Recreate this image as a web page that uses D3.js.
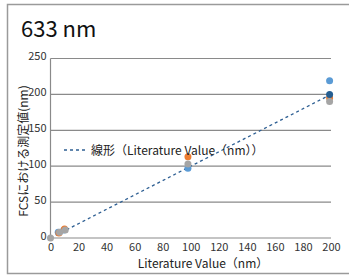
<!DOCTYPE html>
<html>
<head>
<meta charset="utf-8">
<script src="https://cdn.jsdelivr.net/npm/d3@7"></script>
<style>
  body { margin: 0; background: #fff; }
  text { font-family: "Noto Sans CJK JP", "Noto Sans", sans-serif; fill: #222; }
</style>
</head>
<body>
<svg id="chart" width="349" height="277"></svg>
<script>
var xTicks = [0, 20, 40, 60, 80, 100, 120, 140, 160, 180, 200];
var yTicks = [0, 50, 100, 150, 200, 250];

var lightBlue = [{x: 5.5, y: 8}, {x: 9.5, y: 11}, {x: 98, y: 97}, {x: 199, y: 219}];
var orange    = [{x: 6, y: 7}, {x: 10, y: 12.5}, {x: 98, y: 113}, {x: 199, y: 195}];
var gray      = [{x: 0, y: 0}, {x: 6.5, y: 8}, {x: 10.5, y: 11}, {x: 98, y: 103}, {x: 199, y: 190}];
var darkBlue  = [{x: 199, y: 200}];
var trend     = [{x: 0, y: 0}, {x: 200, y: 200}];

var svg = d3.select('#chart');

svg.append('rect')
   .attr('x', 7.5).attr('y', 4.5).attr('width', 360).attr('height', 269)
   .style('fill', 'none').style('stroke', '#9a9a9a').style('stroke-width', 1.5);

svg.append('text')
   .attr('x', 21).attr('y', 37)
   .style('font-size', '22px').style('fill', '#111')
   .text('633 nm');

var x = d3.scaleLinear().domain([0, 200]).range([50.5, 331]);
var y = d3.scaleLinear().domain([0, 250]).range([238, 58.5]);

// grid
svg.selectAll('.grid')
   .data(yTicks)
   .enter()
   .append('line')
   .classed('grid', true)
   .attr('x1', x(0)).attr('x2', x(200))
   .attr('y1', function(d){return y(d);}).attr('y2', function(d){return y(d);})
   .style('stroke', '#8a8a8a').style('stroke-width', 1.2);

svg.append('line')
   .attr('x1', x(0)).attr('x2', x(0)).attr('y1', y(0)).attr('y2', y(250))
   .style('stroke', '#8a8a8a').style('stroke-width', 1.2);

var yAxis = d3.axisLeft(y).tickValues(yTicks).tickSize(0).tickPadding(4);
var gy = svg.append('g').attr('transform', 'translate(' + x(0) + ',0)').call(yAxis);
gy.select('.domain').remove();
gy.selectAll('text').style('font-size', '11px').style('fill', '#333').style('font-family', '"Noto Sans CJK JP", sans-serif').attr('dy', '0.1em');

var xAxis = d3.axisBottom(x).tickValues(xTicks).tickSize(0).tickPadding(5);
var gx = svg.append('g').attr('transform', 'translate(0,' + y(0) + ')').call(xAxis);
gx.select('.domain').remove();
gx.selectAll('text').style('font-size', '11px').style('fill', '#333').style('font-family', '"Noto Sans CJK JP", sans-serif');

// trend line
svg.append('path')
   .datum(trend)
   .attr('d', d3.line().x(function(d){return x(d.x);}).y(function(d){return y(d.y);}))
   .style('fill', 'none').style('stroke', '#2e5f93').style('stroke-width', 1.3)
   .style('stroke-dasharray', '3, 3');

function dots(data, color) {
   svg.append('g')
      .selectAll('circle')
      .data(data)
      .enter()
      .append('circle')
      .attr('cx', function(d){return x(d.x);})
      .attr('cy', function(d){return y(d.y);})
      .attr('r', 3.5)
      .style('fill', color);
}
dots(lightBlue, '#5b9bd5');
dots(orange, '#ed7d31');
dots(gray, '#a5a5a5');
dots(darkBlue, '#255e91');

// legend
svg.append('line')
   .attr('x1', 64).attr('x2', 87).attr('y1', 150).attr('y2', 150)
   .style('stroke', '#2e5f93').style('stroke-width', 1.3).style('stroke-dasharray', '3, 3');
svg.append('text')
   .attr('x', 91).attr('y', 154.5)
   .style('font-size', '12px')
   .text('線形（Literature Value（nm））');

// axis titles
svg.append('text')
   .attr('transform', 'translate(28,151) rotate(-90)')
   .attr('text-anchor', 'middle')
   .style('font-size', '12px')
   .text('FCSにおける測定値(nm)');

svg.append('text')
   .attr('x', 203).attr('y', 268)
   .attr('text-anchor', 'middle')
   .style('font-size', '12px')
   .text('Literature Value（nm）');
</script>
</body>
</html>
